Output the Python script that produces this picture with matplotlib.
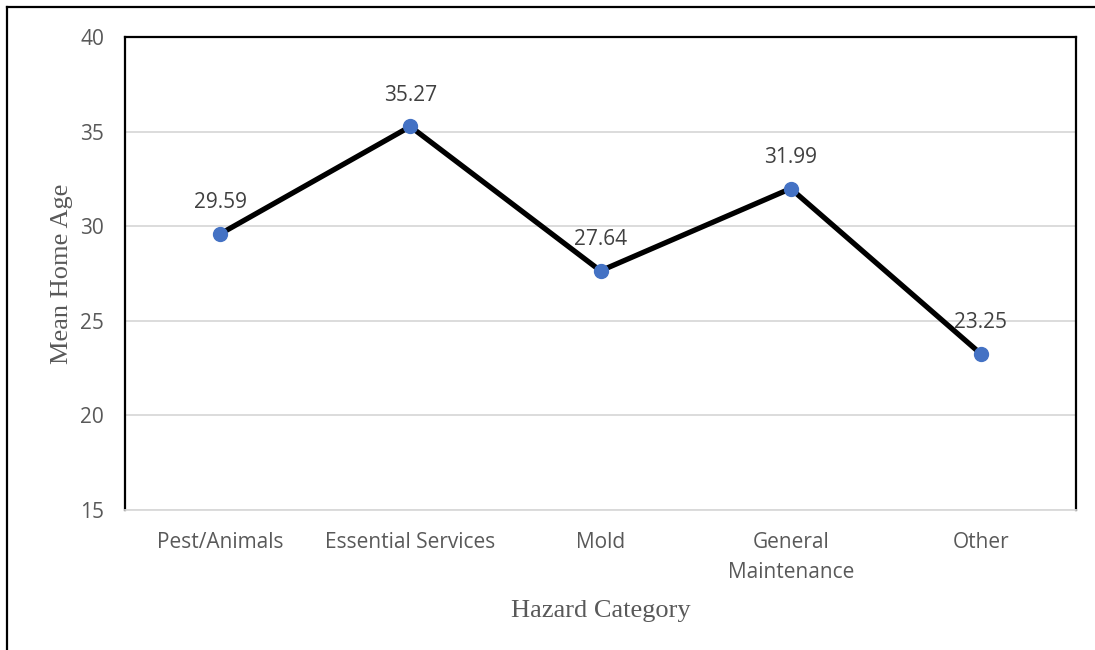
import matplotlib.pyplot as plt
from matplotlib.lines import Line2D

categories = ['Pest/Animals', 'Essential Services', 'Mold', 'General\nMaintenance', 'Other']
mean_age = [29.59, 35.27, 27.64, 31.99, 23.25]
y_ticks = [15, 20, 25, 30, 35, 40]

W, H = 1095, 650
fig = plt.figure(figsize=(W / 100, H / 100), dpi=100)
ax = fig.add_axes([125 / W, 1 - 510 / H, (1076 - 125) / W, (510 - 37) / H])

x = list(range(len(categories)))
ax.plot(x, mean_age, color='black', lw=3.8, zorder=3, solid_capstyle='round')
ax.plot(x, mean_age, 'o', color='#4472C4', ms=10, zorder=4)
for xi, v in zip(x, mean_age):
    ax.annotate(f'{v:.2f}', (xi, v), xytext=(0, 15), textcoords='offset points',
                ha='center', va='bottom', fontsize=15, color='#404040',
                family='Open Sans')

ax.set_xlim(-0.5, len(categories) - 0.5)
ax.set_ylim(15, 40)
ax.set_yticks(y_ticks)
ax.set_xticks(x)
ax.set_xticklabels(categories, family='Open Sans', fontsize=15, color='#595959',
                   linespacing=1.55)
ax.set_yticklabels([str(t) for t in y_ticks], family='Open Sans', fontsize=15,
                   color='#595959')
ax.tick_params(axis='y', length=0, pad=15)
ax.tick_params(axis='x', length=0, pad=16)
ax.grid(axis='y', color='#D9D9D9', lw=1.3)
ax.set_axisbelow(True)

for side in ['top', 'left', 'right']:
    ax.spines[side].set_color('black')
    ax.spines[side].set_linewidth(1.6)
ax.spines['bottom'].set_color('#D9D9D9')
ax.spines['bottom'].set_linewidth(1.3)

ax.set_xlabel('Hazard Category', family='Liberation Serif', fontsize=19,
              color='#595959', labelpad=12)
ax.set_ylabel('Mean Home Age', family='Liberation Serif', fontsize=19,
              color='#595959', labelpad=5)

# outer frame
fig.add_artist(Line2D([7 / W, 7 / W], [0, 1 - 7 / H], color='black', lw=1.6,
                      transform=fig.transFigure))
fig.add_artist(Line2D([7 / W, 1], [1 - 7 / H, 1 - 7 / H], color='black', lw=1.6,
                      transform=fig.transFigure))

fig.savefig('out.png', dpi=100)
